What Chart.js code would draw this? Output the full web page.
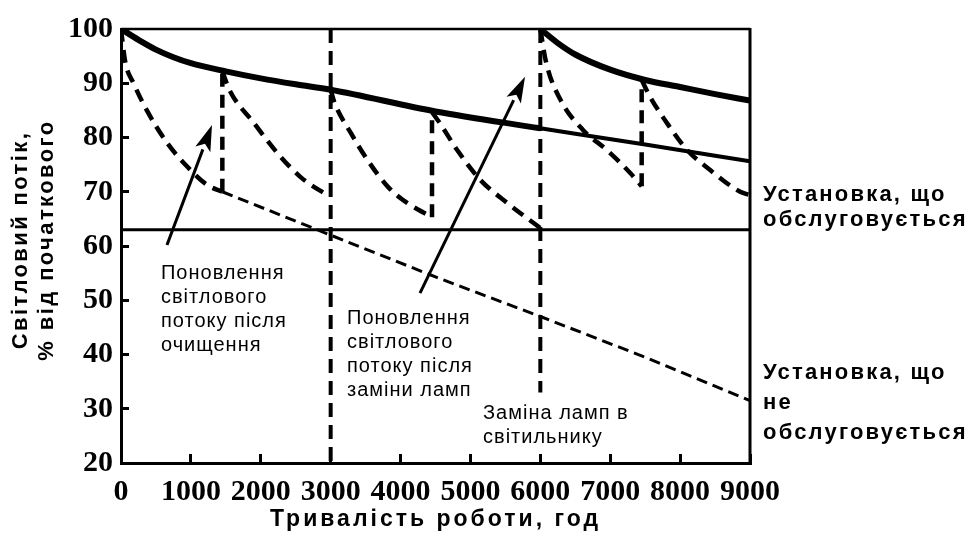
<!DOCTYPE html>
<html lang="uk">
<head>
<meta charset="utf-8">
<title>Світловий потік</title>
<style>
    html, body { margin: 0; padding: 0; background: #fff; }
    #wrap { width: 971px; height: 536px; }
</style>
<script src="https://cdn.jsdelivr.net/npm/chart.js@4.4.1/dist/chart.umd.min.js"></script>
</head>
<body>
<div id="wrap"><canvas id="fluxChart" width="971" height="536"></canvas></div>
<script>
// Тики осей
const xTickValues = [0, 1000, 2000, 3000, 4000, 5000, 6000, 7000, 8000, 9000];
const yTickValues = [20, 30, 40, 50, 60, 70, 80, 90, 100];

// Установка, що обслуговується (суцільна товста лінія), до і після заміни ламп
const mainHours1 = [0, 250, 500, 750, 1000, 1500, 2000, 2500, 3000, 4500, 6000];
const mainFlux1 = [100, 98.0, 96.2, 94.8, 93.7, 92.2, 90.9, 89.8, 88.8, 84.8, 81.7];
const mainHours2 = [6000, 6250, 6500, 7000, 7500, 8000, 8500, 9000];
const mainFlux2 = [100, 97.4, 95.3, 92.5, 90.6, 89.3, 88.0, 86.8];

// Продовження без заміни ламп (тонка суцільна)
const oldLampHours = [6000, 7500, 9000];
const oldLampFlux = [81.7, 78.7, 75.6];

// Спад між очищеннями (пунктир)
const cleanHours = [
    [0, 60, 180, 370, 660, 950, 1240, 1450],
    [1450, 1550, 1900, 2240, 2570, 2970],
    [3000, 3050, 3290, 3530, 3820, 4100, 4450],
    [4450, 4570, 4810, 5140, 5530, 6000],
    [6000, 6080, 6290, 6610, 6950, 7290, 7450],
    [7450, 7570, 7810, 8100, 8430, 8860, 9000]
];
const cleanFlux = [
    [100, 94, 90, 85, 79, 74.6, 71.2, 70],
    [92.2, 88.8, 82.7, 77.1, 72.7, 69.2],
    [88.8, 86.6, 80.8, 75.8, 70.9, 67.9, 65.3],
    [84.7, 82.5, 77.7, 72.2, 67.9, 63.3],
    [100, 94, 86.9, 81.4, 77.7, 73.4, 71],
    [90.6, 87.5, 82.7, 77.7, 74, 70, 69.4]
];

// Стрибки після очищення
const jumpHours = [[1450, 1450], [4450, 4450], [7450, 7450]];
const jumpFlux = [[70, 92.2], [65.3, 84.7], [71, 90.6]];

// Заміна ламп (вертикальний пунктир)
const lampHours = [[3000, 3000], [6000, 6000]];
const lampFlux = [[100, 20], [100, 33]];

// Установка, що не обслуговується
const noMaintHours = [1450, 3000, 4500, 6000, 7500, 9000];
const noMaintFlux = [70, 62, 54.3, 47, 39.5, 31.5];

// Мінімально допустимий рівень
const levelHours = [0, 9000];
const levelFlux = [63, 63];

// Стрілки (хвіст -> вістря)
const arrowHours = [[658, 1302], [4278, 5781]];
const arrowFlux = [[60.2, 82.3], [51.3, 91.2]];

// Підписи
const noteCleaning = ['Поновлення', 'світлового', 'потоку після', 'очищення'];
const noteRelamp = ['Поновлення', 'світлового', 'потоку після', 'заміни ламп'];
const noteLampChange = ['Заміна ламп в', 'світильнику'];
const labelMaintained = ['Установка, що', 'обслуговується'];
const labelUnmaintained = ['Установка, що', 'не', 'обслуговується'];
const yTitle = ['Світловий потік,', '% від початкового'];
const xTitle = 'Тривалість роботи, год';

const toPoints = (hours, flux) => hours.map((h, i) => ({ x: h, y: flux[i] }));

// Сегменти з розривами (null) між ними
function joinSegments(hoursList, fluxList) {
    const out = [];
    hoursList.forEach((hours, i) => {
        if (i > 0) out.push({ x: hours[0], y: null });
        out.push(...toPoints(hours, fluxList[i]));
    });
    return out;
}

function line(data, width, dash, smooth) {
    return {
        data,
        borderColor: '#000',
        borderWidth: width,
        borderDash: dash || [],
        borderJoinStyle: 'round',
        pointRadius: 0,
        fill: false,
        spanGaps: false,
        cubicInterpolationMode: smooth ? 'monotone' : 'default',
        tension: 0
    };
}

function drawLines(ctx, lines, x, y, step) {
    lines.forEach((t, i) => ctx.fillText(t, x, y + i * step));
}

const overlay = {
    id: 'overlay',
    afterDatasetsDraw(chart) {
        const { ctx, chartArea: a, scales: { x, y } } = chart;
        ctx.save();
        ctx.strokeStyle = '#000';
        ctx.fillStyle = '#000';

        // рамка зверху та справа
        ctx.lineWidth = 2.5;
        ctx.beginPath();
        ctx.moveTo(a.left, a.top);
        ctx.lineTo(a.right, a.top);
        ctx.stroke();
        ctx.lineWidth = 3;
        ctx.beginPath();
        ctx.moveTo(a.right, a.top - 1);
        ctx.lineTo(a.right, a.bottom);
        ctx.stroke();

        // стрілки
        arrowHours.forEach((hrs, i) => {
            const x0 = x.getPixelForValue(hrs[0]), y0 = y.getPixelForValue(arrowFlux[i][0]);
            const x1 = x.getPixelForValue(hrs[1]), y1 = y.getPixelForValue(arrowFlux[i][1]);
            const ang = Math.atan2(y1 - y0, x1 - x0);
            const len = 26, half = 8;
            const bx = x1 - len * Math.cos(ang), by = y1 - len * Math.sin(ang);
            ctx.lineWidth = 3;
            ctx.beginPath();
            ctx.moveTo(x0, y0);
            ctx.lineTo(bx, by);
            ctx.stroke();
            ctx.beginPath();
            ctx.moveTo(x1, y1);
            ctx.lineTo(bx + half * Math.sin(ang), by - half * Math.cos(ang));
            ctx.lineTo(bx + 6 * Math.cos(ang), by + 6 * Math.sin(ang));
            ctx.lineTo(bx - half * Math.sin(ang), by + half * Math.cos(ang));
            ctx.closePath();
            ctx.fill();
        });

        // підписи всередині графіка
        ctx.textBaseline = 'middle';
        ctx.textAlign = 'left';
        ctx.font = '20px "Liberation Sans", Arial, sans-serif';
        ctx.letterSpacing = '1px';
        drawLines(ctx, noteCleaning, x.getPixelForValue(572), y.getPixelForValue(55.0), 24);
        drawLines(ctx, noteRelamp, x.getPixelForValue(3234), y.getPixelForValue(46.7), 24);
        drawLines(ctx, noteLampChange, x.getPixelForValue(5180), y.getPixelForValue(29.2), 24);

        // підписи праворуч
        ctx.font = 'bold 22px "Liberation Sans", Arial, sans-serif';
        ctx.letterSpacing = '2.2px';
        drawLines(ctx, labelMaintained, a.right + 13, y.getPixelForValue(69.4), 25);
        drawLines(ctx, labelUnmaintained, a.right + 13, y.getPixelForValue(36.6), 30);

        // назви осей
        ctx.textAlign = 'center';
        ctx.font = 'bold 23px "Liberation Sans", Arial, sans-serif';
        ctx.letterSpacing = '3px';
        ctx.fillText(xTitle, (a.left + a.right) / 2, 520);
        ctx.font = 'bold 22px "Liberation Sans", Arial, sans-serif';
        ctx.letterSpacing = '2.4px';
        ctx.translate(0, (a.top + a.bottom) / 2 - 6);
        ctx.rotate(-Math.PI / 2);
        ctx.fillText(yTitle[0], 0, 21);
        ctx.fillText(yTitle[1], 0, 47);
        ctx.restore();
    }
};

const tickFont = { family: '"Liberation Serif", "Times New Roman", serif', size: 30, weight: 'bold' };

new Chart(document.getElementById('fluxChart'), {
    type: 'line',
    data: {
        datasets: [
            line(joinSegments([mainHours1, mainHours2], [mainFlux1, mainFlux2]), 6, null, true),
            line(toPoints(oldLampHours, oldLampFlux), 4, null, true),
            line(joinSegments(cleanHours, cleanFlux), 4.5, [13, 8], true),
            line(joinSegments(jumpHours, jumpFlux), 4.5, [13, 8], false),
            line(joinSegments(lampHours, lampFlux), 4, [14, 8], false),
            line(toPoints(noMaintHours, noMaintFlux), 3, [11, 6], false),
            line(toPoints(levelHours, levelFlux), 3, null, false)
        ]
    },
    options: {
        responsive: false,
        animation: false,
        events: [],
        layout: { padding: { left: 0, top: 29, right: 221, bottom: 33 } },
        plugins: {
            legend: { display: false },
            tooltip: { enabled: false },
            title: { display: false }
        },
        scales: {
            x: {
                type: 'linear',
                min: 0,
                max: 9000,
                afterBuildTicks: (scale) => { scale.ticks = xTickValues.map(v => ({ value: v })); },
                afterFit: (scale) => {
                    scale.height = 40;
                    scale.paddingLeft = 0;
                    scale.paddingRight = 0;
                },
                border: { display: true, color: '#000', width: 3 },
                grid: { drawOnChartArea: false, drawTicks: true, tickLength: -9, tickWidth: 3, tickColor: '#000' },
                ticks: {
                    font: tickFont, color: '#000', padding: 20, maxRotation: 0, autoSkip: false,
                    callback: (value) => String(value)
                }
            },
            y: {
                min: 20,
                max: 100,
                afterBuildTicks: (scale) => { scale.ticks = yTickValues.map(v => ({ value: v })); },
                afterFit: (scale) => {
                    scale.width = 121;
                    scale.paddingTop = 0;
                    scale.paddingBottom = 0;
                },
                border: { display: true, color: '#000', width: 3 },
                grid: { drawOnChartArea: false, drawTicks: true, tickLength: -8, tickWidth: 3, tickColor: '#000' },
                ticks: { font: tickFont, color: '#000', padding: 16, autoSkip: false }
            }
        }
    },
    plugins: [overlay]
});
</script>
</body>
</html>
